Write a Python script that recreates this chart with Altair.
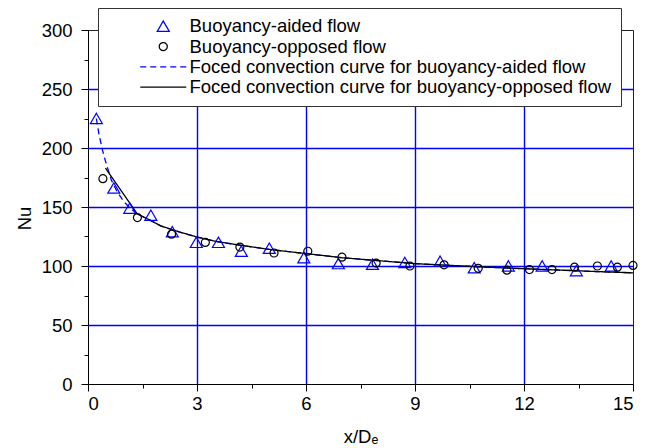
import altair as alt
import pandas as pd

# ---- data ----
aided_x = [0.23, 0.71, 1.15, 1.73, 2.32, 2.98, 3.59, 4.22, 4.99, 5.94, 6.89, 7.83,
           8.72, 9.69, 10.63, 11.57, 12.50, 13.44, 14.40]
aided_nu = [225, 166, 149, 143, 129, 120, 120, 112.5, 115, 107, 102, 101.5,
            103, 104, 98.5, 100, 100, 96, 100]
opp_x = [0.41, 1.36, 2.30, 3.23, 4.18, 5.12, 6.05, 6.99, 7.93, 8.86, 9.80, 10.74,
         11.53, 12.15, 12.77, 13.39, 14.02, 14.57, 15.0]
opp_nu = [174, 141, 127, 120, 116, 111, 112.5, 107.5, 102.5, 100, 101, 98,
          96.5, 97, 97, 99, 100, 99, 100.5]

curve_opp_x = [0.48, 1.36, 1.7, 2.0, 2.5, 3.0, 3.5, 4.0, 5.0, 6.0, 7.0, 8.0,
               9.0, 10.0, 11.0, 12.0, 13.0, 14.0, 15.0]
curve_opp_nu = [183, 144, 139, 134, 129, 124.5, 121, 118.5, 114, 110.5, 107, 104.5,
                102, 100.5, 99, 97.7, 96.5, 95.3, 94.2]
curve_aid_x = [0.23, 0.3, 0.4, 0.48, 0.64, 0.8, 1.0, 1.2, 1.36, 1.7, 2.0, 2.5, 3.0,
               3.5, 4.0, 5.0, 6.0, 7.0, 8.0, 9.0, 10.0, 11.0, 12.0, 13.0, 14.0, 15.0]
curve_aid_nu = [225, 212, 198, 189, 173, 163, 154, 148, 144, 139, 134, 129, 124.5,
                121, 118.5, 114, 110.5, 107, 104.5, 102, 100.5, 99, 97.7, 96.5, 95.3, 94.2]

series = ["Buoyancy-aided flow",
          "Buoyancy-opposed flow",
          "Foced convection curve for buoyancy-aided flow",
          "Foced convection curve for buoyancy-opposed flow"]
x_ticks = [0, 3, 6, 9, 12, 15]
x_minor = [1.5, 4.5, 7.5, 10.5, 13.5]
y_ticks = [0, 50, 100, 150, 200, 250, 300]
y_minor = [25, 75, 125, 175, 225, 275]
x_grid = [3, 6, 9, 12]
y_grid = [50, 100, 150, 200, 250]

FONT = "Liberation Sans, Arial, DejaVu Sans"
BLUE = "#0000ff"

# symbol shapes (unit paths, scaled by sqrt(size)/2)
TRI = "M0,-1.05L1.2,1.02L-1.2,1.02Z"
CIRC = "M0.8,0A0.8,0.8,0,1,1,-0.8,0A0.8,0.8,0,1,1,0.8,0Z"
LINE = "M-4.6,0L4.6,0"

pts = pd.concat([
    pd.DataFrame({"x": aided_x, "nu": aided_nu, "series": series[0]}),
    pd.DataFrame({"x": opp_x, "nu": opp_nu, "series": series[1]}),
])
lines = pd.concat([
    pd.DataFrame({"x": curve_aid_x, "nu": curve_aid_nu, "series": series[2]}),
    pd.DataFrame({"x": curve_opp_x, "nu": curve_opp_nu, "series": series[3]}),
])

xs = alt.Scale(domain=[0, 15], nice=False, zero=False)
ys = alt.Scale(domain=[0, 300], nice=False)

legend = alt.Legend(
    orient="none", legendX=10, legendY=-22, title=None,
    fillColor="white", strokeColor="#333", padding=9,
    labelFont=FONT, labelFontSize=18.5, labelLimit=1000, labelColor="black",
    labelOffset=17, rowPadding=1.3, symbolStrokeWidth=1.3, symbolOffset=47,
    symbolSize=100,
)
color = alt.Color("series:N", scale=alt.Scale(domain=series, range=[BLUE, "black", BLUE, "black"]), legend=legend)
shape = alt.Shape("series:N", scale=alt.Scale(domain=series, range=[TRI, CIRC, LINE, LINE]), legend=legend)
dash = alt.StrokeDash("series:N", scale=alt.Scale(domain=series, range=[[1, 0], [1, 0], [6, 4], [1, 0]]), legend=legend)

xgrid = alt.Chart(pd.DataFrame({"v": x_grid})).mark_rule(color=BLUE, strokeWidth=1.4, xOffset=0.5).encode(
    x=alt.X("v:Q", scale=xs, axis=alt.Axis(orient="bottom", values=x_minor, tickSize=4, labels=False,
                                           domain=False, grid=False, title=None, tickColor="black"))
)
ygrid = alt.Chart(pd.DataFrame({"v": y_grid})).mark_rule(color=BLUE, strokeWidth=1.4, yOffset=0.5).encode(
    y=alt.Y("v:Q", scale=ys, axis=alt.Axis(orient="left", values=y_minor, tickSize=4, labels=False,
                                           domain=False, grid=False, title=None, tickColor="black"))
)
line_layer = alt.Chart(lines).mark_line(strokeWidth=1.3).encode(
    x=alt.X("x:Q", scale=xs, axis=None),
    y=alt.Y("nu:Q", scale=ys, axis=None),
    color=color, strokeDash=dash, order="x:Q",
)
point_layer = alt.Chart(pts).mark_point(filled=False, strokeWidth=1.2, opacity=1, size=100).encode(
    x=alt.X("x:Q", scale=xs, axis=alt.Axis(orient="bottom", values=x_ticks, tickSize=7, labelPadding=3,
                                           grid=False, title="x/D\u2091", titleFontWeight="normal",
                                           titleFontSize=18.5, titleY=58, titleBaseline="alphabetic")),
    y=alt.Y("nu:Q", scale=ys, axis=alt.Axis(orient="left", values=y_ticks, tickSize=7, labelPadding=9,
                                            grid=False, title="Nu", titleFontWeight="normal",
                                            titleFontSize=18.5, titleX=-64, titleY=188, titleAngle=-90,
                                            titleAlign="center", titleBaseline="middle")),
    color=color, shape=shape,
)

chart = alt.layer(xgrid, ygrid, line_layer, point_layer).resolve_axis(
    x="independent", y="independent"
).properties(
    width=545, height=354,
    autosize=alt.AutoSizeParams(type="none"),
    padding={"left": 88, "top": 30, "right": 26, "bottom": 64},
    background="white",
).configure_view(stroke="#222", strokeWidth=1).configure_axis(
    labelFont=FONT, titleFont=FONT, labelFontSize=18.5, labelColor="black", titleColor="black",
    domainColor="black", tickColor="black", domainWidth=1, tickWidth=1,
)

chart.save("out.html", embed_options={"renderer": "svg", "actions": False})
